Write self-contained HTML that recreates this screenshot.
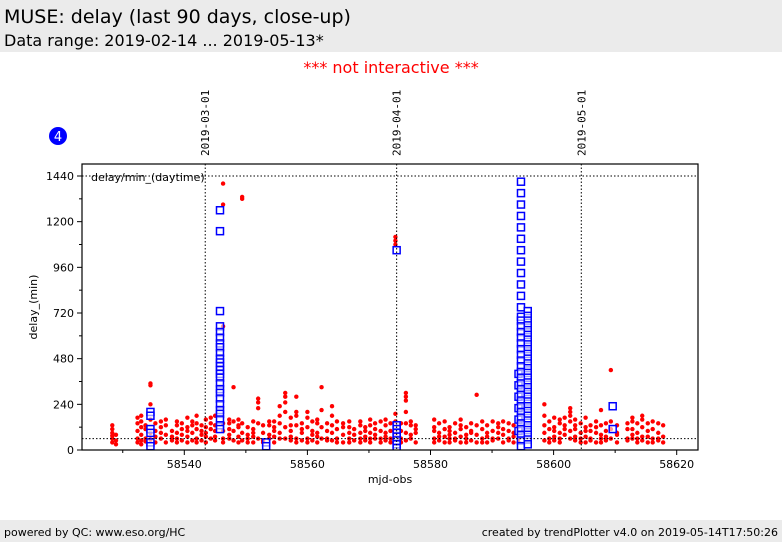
<!DOCTYPE html>
<html><head><meta charset="utf-8"><style>
body{margin:0;width:782px;height:542px;background:#fff;font-family:"DejaVu Sans","Liberation Sans",sans-serif;position:relative;overflow:hidden}
.hdr{position:absolute;left:0;top:0;width:782px;height:52px;background:#ebebeb}
.t1{position:absolute;left:4px;top:6px;font-size:19px;color:#000}
.t2{position:absolute;left:4px;top:31px;font-size:16px;color:#000}
.ni{position:absolute;left:0;width:782px;top:58px;text-align:center;color:#f00;font-size:16px}
.ftr{position:absolute;left:0;top:520px;width:782px;height:22px;background:#ebebeb;font-size:11px}
.fl{position:absolute;left:4px;top:6px}.fr{position:absolute;right:4px;top:6px}
svg{position:absolute;left:0;top:0}
</style></head><body>
<div class="hdr">
<div class="t1">MUSE: delay (last 90 days, close-up)</div>
<div class="t2">Data range: 2019-02-14 ... 2019-05-13*</div></div>
<div class="ni">*** not interactive ***</div>
<div class="ftr"><span class="fl">powered by QC: www.eso.org/HC</span><span class="fr">created by trendPlotter v4.0 on 2019-05-14T17:50:26</span></div>
<svg id="chart" width="782" height="542"></svg>
<script>
const xTicks=[58540,58560,58580,58600,58620];
const xMinor=[58530,58550,58570,58590,58610];
const yTicks=[0,240,480,720,960,1200,1440];
const yMinor=[120,360,600,840,1080,1320];
const dateLabels=["2019-03-01","2019-04-01","2019-05-01"];
const dateMjd=[58543.4,58574.5,58604.5];
const refLines=[1440,60];
const redNights=[58528.3,58528.9,58532.4,58533.0,58533.7,58534.5,58535.3,58536.2,58537.0,58538.0,58538.8,58539.6,58540.5,58541.3,58542.0,58542.8,58543.5,58544.3,58545.0,58546.3,58547.3,58548.0,58548.8,58549.4,58550.3,58551.2,58552.0,58552.8,58553.8,58554.6,58555.5,58556.4,58557.3,58558.2,58559.1,58560.0,58560.8,58561.6,58562.3,58563.2,58564.0,58564.8,58565.8,58566.8,58567.6,58568.6,58569.4,58570.2,58571.0,58571.9,58572.7,58573.5,58574.3,58575.2,58576.0,58576.8,58577.6,58580.6,58581.4,58582.3,58583.1,58584.0,58584.9,58585.8,58586.6,58587.5,58588.4,58589.2,58590.1,58591.0,58591.8,58592.7,58593.5,58594.3,58598.5,58599.3,58600.1,58601.0,58601.8,58602.7,58603.5,58604.4,58605.2,58606.0,58606.9,58607.7,58608.5,58609.3,58610.3,58612.0,58612.8,58613.6,58614.4,58615.3,58616.1,58617.0,58617.8];
const redVals=[[60,90,110,130,40,75],[50,80,30],[60,100,140,170,40],[80,120,150,180,50,30],[60,110,130,45],[350,340,240,160,90,55],[100,140,70,40],[60,120,150,90],[40,80,130,160],[50,100,70],[60,130,90,150,40],[110,140,80,50],[70,120,170,100,40],[50,90,150,130],[60,110,180,140,40],[80,130,100,50],[40,90,160,120,70],[60,110,140,170],[50,100,130,180,70],[1400,1290,650,140,100,60,40],[60,110,160,140,80],[330,150,100,50],[70,130,160,120,40],[1330,1320,140,90,50],[40,80,120,60],[70,110,150,40,90],[270,250,220,140,60],[50,90,130,40],[80,130,60,150],[40,100,150,120,70],[60,230,180,140,90],[300,280,250,200,120,60],[70,130,170,50,100],[60,180,200,280,130,40],[50,90,140,110],[60,120,200,170,40],[80,150,100,50],[40,90,140,160,70],[330,210,120,60],[50,100,140,60],[230,180,130,90,50],[60,110,150,40],[40,80,140,120],[60,90,120,150,40],[50,110,80],[40,90,130,150,60],[70,120,100,50],[40,90,160,130,60],[60,110,80,140],[40,100,150,60],[70,130,90,160,50],[60,100,140,40],[1120,1100,1080,190,150,110,80],[100,140,60,40],[300,280,260,200,140,90,50],[80,130,150,60],[40,90,130,110],[60,120,160,100,40],[50,90,140,70],[70,110,150,40],[40,80,120,60,100],[50,90,140,60],[70,110,160,130,40],[40,80,120,60],[50,90,140,100],[290,130,80,40],[60,110,150,40],[40,90,130,70],[50,100,150,60],[60,120,140,90],[40,80,150,110],[60,100,140,50],[40,90,130,70],[60,120,150,40],[240,180,130,90,50],[60,110,150,40],[70,120,170,100,50],[40,90,140,160,60],[80,130,170,110],[220,200,180,150,100,60],[50,110,160,130,70],[40,90,140,60],[70,120,170,100,40],[50,100,130,60],[40,90,150,120],[60,210,130,80,40],[50,100,140,70],[420,150,110,60],[40,90,130,80],[60,140,110,50],[80,150,170,110,60],[40,90,140,60],[70,120,160,180,50],[40,100,140,70],[60,110,150,40],[50,90,140,60],[70,130,40]];
const blueNights=[58534.5,58545.8,58553.3,58574.5,58594.3,58594.7,58595.8,58609.6];
const blueVals=[[200,180,110,90,40,20],
[1260,1150,730,650,620,590,560,540,510,480,460,440,420,400,380,350,320,300,270,240,210,190,160,130,110],
[40,20],
[1050,130,110,90,70,50,30,10],
[400,340,280,220,160,100],
[1410,1350,1290,1230,1170,1110,1050,990,930,870,810,750,700,680,650,620,590,560,530,500,470,440,410,380,350,320,290,260,230,200,170,140,110,80,50,20],
[730,705,680,655,630,605,580,555,530,505,480,455,430,405,380,355,330,305,280,255,230,205,180,155,130,105,80,55,30],
[230,110]];
const L=82,R=698,T=164,B=450;
const X=m=>184.3+(m-58540)*6.155;
const Y=v=>450-v*274/1440;
const S='http://www.w3.org/2000/svg',svg=document.getElementById('chart');
function mk(t,a,p){const e=document.createElementNS(S,t);for(const k in a)e.setAttribute(k,a[k]);(p||svg).appendChild(e);return e;}
const gMarks=mk('g',{'clip-path':'url(#cp)'});
const cp=mk('clipPath',{id:'cp'});mk('rect',{x:L,y:T,width:R-L,height:B-T},cp);
refLines.forEach(v=>{const e=mk('line',{x1:L,x2:R,y1:Y(v),y2:Y(v),stroke:'#000','stroke-dasharray':'1.5,2','stroke-width':1});

});
dateMjd.forEach((m,i)=>{const e=mk('line',{x1:X(m),x2:X(m),y1:T,y2:B,stroke:'#000','stroke-dasharray':'1.5,2','stroke-width':1});


const t=mk('text',{x:0,y:0,transform:`translate(${X(m)+4},156) rotate(-90)`,'font-family':'"DejaVu Sans Mono","Liberation Mono",monospace','font-size':11});
t.textContent=dateLabels[i];

});
redNights.forEach((m,i)=>redVals[i].forEach(v=>{const c=mk('circle',{cx:X(m),cy:Y(v),r:2.2,fill:'#f00'},gMarks);

}));
blueNights.forEach((m,i)=>blueVals[i].forEach(v=>{const r=mk('rect',{x:X(m)-3.5,y:Y(v)-3.5,width:7,height:7,fill:'#fff','fill-opacity':0.6,stroke:'#00f','stroke-width':1.5},gMarks);

}));
const fr=mk('rect',{x:L,y:T,width:R-L,height:B-T,fill:'none',stroke:'#000','stroke-width':1.2});


xTicks.forEach(m=>{mk('line',{x1:X(m),x2:X(m),y1:B,y2:B+5,stroke:'#000'});
const t=mk('text',{x:X(m),y:B+18,'text-anchor':'middle','font-size':11});t.textContent=m;

});
xMinor.forEach(m=>mk('line',{x1:X(m),x2:X(m),y1:B,y2:B+3,stroke:'#000'}));
yTicks.forEach(v=>{mk('line',{x1:L-5,x2:L,y1:Y(v),y2:Y(v),stroke:'#000'});
const t=mk('text',{x:L-8,y:Y(v)+4,'text-anchor':'end','font-size':11});t.textContent=v;

});
yMinor.forEach(v=>mk('line',{x1:L-3,x2:L,y1:Y(v),y2:Y(v),stroke:'#000'}));
let t=mk('text',{x:91,y:181,'font-size':11});t.textContent='delay/min_(daytime)';


t=mk('text',{x:390,y:483,'text-anchor':'middle','font-size':11});t.textContent='mjd-obs';


t=mk('text',{x:0,y:0,transform:'translate(37,307) rotate(-90)','text-anchor':'middle','font-size':11});t.textContent='delay_(min)';


const bc=mk('circle',{cx:58,cy:136,r:9,fill:'#00f'});


t=mk('text',{x:58,y:141,'text-anchor':'middle','font-size':13,fill:'#fff'});t.textContent='4';


</script>
</body></html>
